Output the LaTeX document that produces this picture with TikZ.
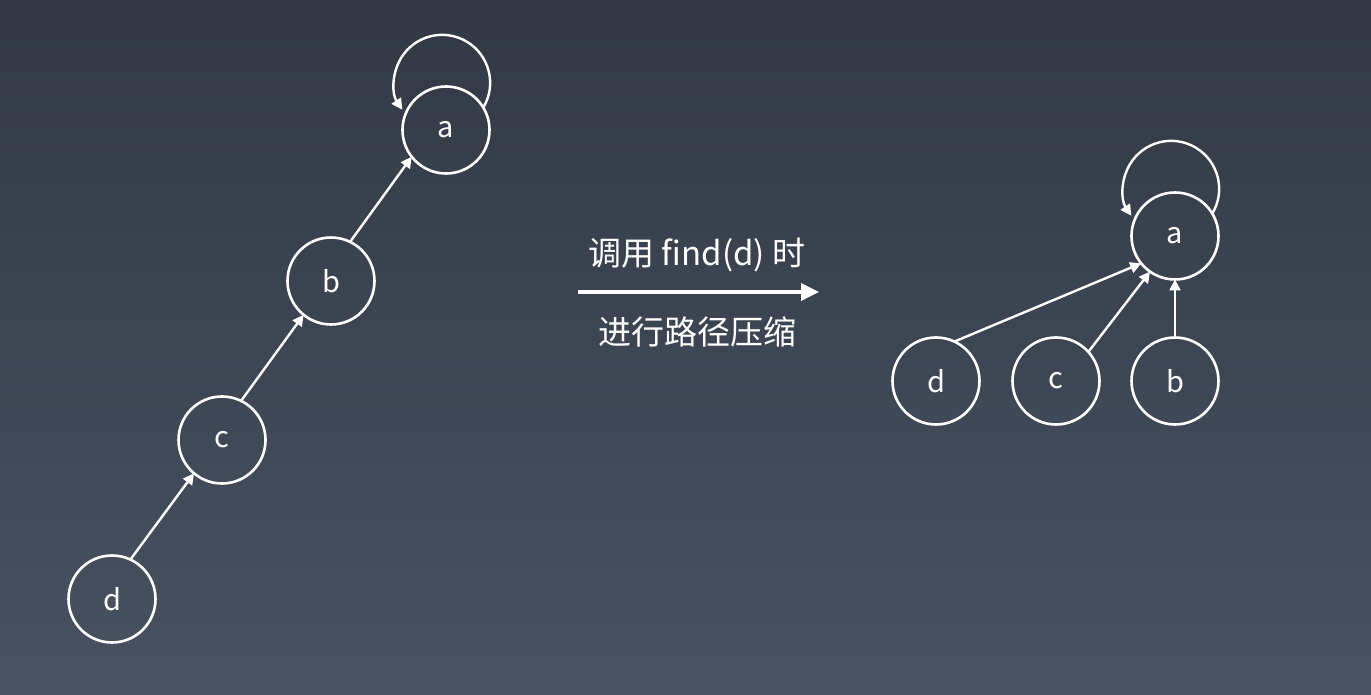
\documentclass[tikz,border=0pt]{standalone}
\usepackage{fontspec}
\setmainfont{Noto Sans CJK SC}
\usetikzlibrary{arrows.meta}
\definecolor{bgtop}{RGB}{50,57,68}
\definecolor{bgbot}{RGB}{72,82,98}
\begin{document}
\begin{tikzpicture}[x=1pt,y=1pt,
  nd/.style={circle,draw=white,line width=2.6pt,minimum size=87pt,inner sep=0pt,outer sep=0pt,text=white,font=\fontsize{29}{34}\selectfont},
  ed/.style={draw=white,line width=2.4pt,-{Triangle[width=11pt,length=11pt]}},
  lbl/.style={text=white,font=\fontsize{33}{38}\selectfont}]
\shade[top color=bgtop,bottom color=bgbot] (0,0) rectangle (1371,695);
\useasboundingbox (0,0) rectangle (1371,695);
% left tree
\node[nd] (a) at (446,565) {a};
\node[nd] (b) at (331,414) {b};
\node[nd] (c) at (222,255) {c};
\node[nd] (d) at (112,96) {d};
\draw[ed] (a.31) arc[start angle=-31,end angle=214,radius=48];
\draw[ed] (d.65) -- (c.230);
\draw[ed] (c.64) -- (b.231);
\draw[ed] (b.64) -- (a.218);
% middle
\node[lbl] (t1) at (697,440) {调用 find(d) 时};
\node[lbl] (t2) at (697,363) {进行路径压缩};
\coordinate (s) at (578,403);
\coordinate (e) at (819,403);
\draw[white,line width=3.6pt,-{Triangle[width=17pt,length=18pt]}] (s) -- (e);
% right tree
\node[nd] (A) at (1175,459) {a};
\node[nd] (D) at (936,314) {d};
\node[nd] (C) at (1056,314) {c};
\node[nd] (B) at (1175,314) {b};
\draw[ed] (A.31) arc[start angle=-31,end angle=214,radius=48];
\draw[ed] (D.65) -- (A.219);
\draw[ed] (C.42) -- (A.235);
\draw[ed] (B.90) -- (A.270);
\end{tikzpicture}
\end{document}
